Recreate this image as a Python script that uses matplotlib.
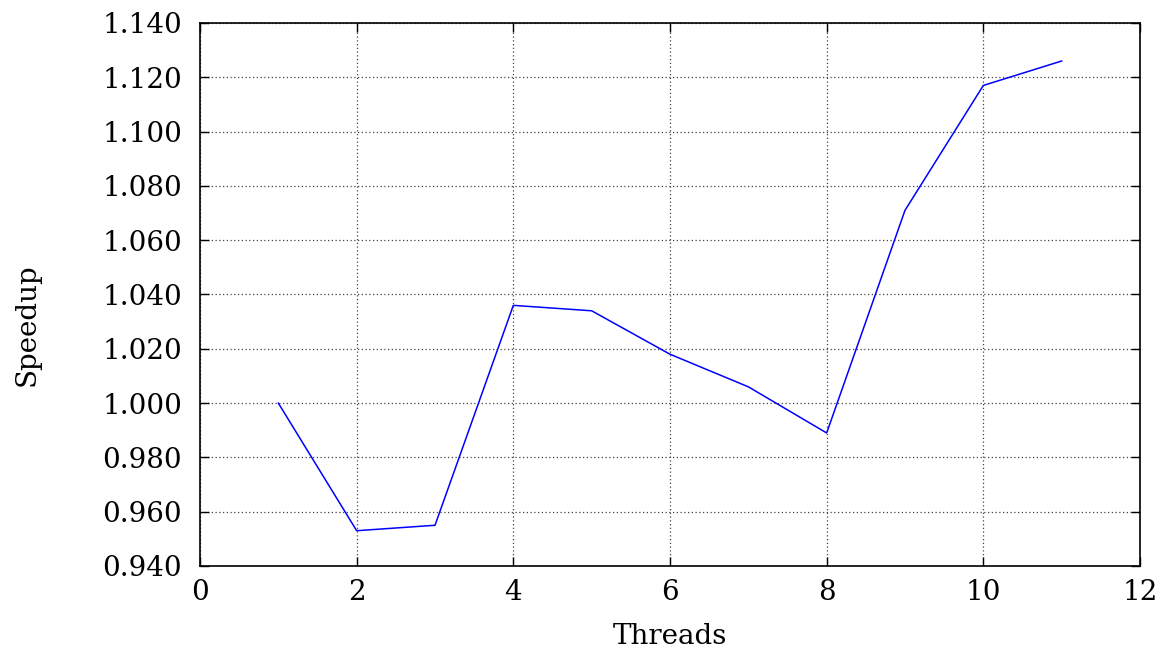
import matplotlib as mpl

mpl.rcParams["font.family"] = "DejaVu Serif"
mpl.rcParams.update({"font.size": 20})

import matplotlib.pyplot as plt
from matplotlib.ticker import FormatStrFormatter

threads = [1, 2, 3, 4, 5, 6, 7, 8, 9, 10, 11]
speedup = [1.000, 0.953, 0.955, 1.036, 1.034, 1.018, 1.006, 0.989, 1.071, 1.117, 1.126]

xticks = [0, 2, 4, 6, 8, 10, 12]
yticks = [0.94, 0.96, 0.98, 1.00, 1.02, 1.04, 1.06, 1.08, 1.10, 1.12, 1.14]

fig = plt.figure(figsize=(11.73, 6.52), dpi=100)
ax = fig.add_axes([200 / 1173, 1 - 566 / 652, 940 / 1173, 543 / 652])

ax.plot(threads, speedup, color="#0000ff", linewidth=1.1)

ax.set_xlim(0, 12)
ax.set_ylim(0.94, 1.14)
ax.set_xticks(xticks)
ax.set_yticks(yticks)
ax.yaxis.set_major_formatter(FormatStrFormatter("%.3f"))

ax.grid(True, linestyle=(0, (1, 2)), color="#444444", linewidth=0.9)
ax.tick_params(direction="in", length=6.5, width=1.0, top=True, right=True)
ax.tick_params(axis="y", pad=13)
ax.tick_params(axis="x", pad=9)
for sp in ax.spines.values():
    sp.set_linewidth(1.2)

ax.set_xlabel("Threads")
ax.xaxis.set_label_coords(0.5, -0.105)
ax.set_ylabel("Speedup")
ax.yaxis.set_label_coords(-0.170, 0.445)

fig.savefig("out.png", dpi=100)
